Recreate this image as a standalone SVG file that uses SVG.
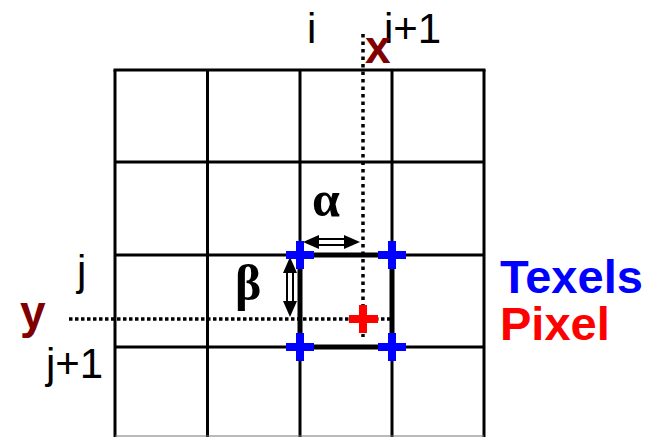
<svg xmlns="http://www.w3.org/2000/svg" width="655" height="437" viewBox="0 0 655 437">
<style>
.grid{stroke:#000;stroke-width:3;fill:none}
.dot{stroke:#000;stroke-width:3.5;fill:none}
.tex{stroke:#0000ff;stroke-width:8}
.pix{stroke:#ff0000;stroke-width:8}
.lbl{font-family:"Liberation Sans",Arial,sans-serif;font-size:42px;fill:#000}
.axis{font-family:"Liberation Sans",Arial,sans-serif;font-size:46px;font-weight:bold;fill:#800000}
.greek{font-family:"Liberation Serif","DejaVu Serif",serif;font-size:50px;font-weight:bold;fill:#000}
.leg{font-family:"Liberation Sans",Arial,sans-serif;font-size:47px;font-weight:bold}
</style>
<rect width="655" height="437" fill="#fff"/>
<g id="grid" class="grid">
<line x1="115" y1="70" x2="115" y2="437"/>
<line x1="207.5" y1="70" x2="207.5" y2="437"/>
<line x1="300" y1="70" x2="300" y2="437"/>
<line x1="392" y1="70" x2="392" y2="437"/>
<line x1="484" y1="70" x2="484" y2="437"/>
<line x1="113.5" y1="70" x2="485.5" y2="70"/>
<line x1="115" y1="162" x2="484" y2="162"/>
<line x1="115" y1="255" x2="484" y2="255"/>
<line x1="115" y1="347" x2="484" y2="347"/>
<line x1="115" y1="436" x2="484" y2="436" stroke="#777" stroke-width="1"/>
</g>
<g id="cell">
<rect x="300" y="255" width="92" height="92" fill="none" stroke="#000" stroke-width="5"/>
</g>
<g id="connectors">
<line class="dot" x1="363" y1="34" x2="363" y2="337" stroke-dasharray="3.5 4"/>
<line class="dot" x1="69" y1="319" x2="390" y2="319" stroke-dasharray="3.5 2.5"/>
<g id="alpha-arrow">
<rect x="318" y="239" width="27" height="6" fill="#fff" stroke="#000" stroke-width="2"/>
<polygon points="303,242 319,235 319,249" fill="#000"/>
<polygon points="360,242 344,235 344,249" fill="#000"/>
</g>
<g id="beta-arrow">
<rect x="287" y="272" width="6" height="30" fill="#fff" stroke="#000" stroke-width="2"/>
<polygon points="290,257 283,273 297,273" fill="#000"/>
<polygon points="290,317 283,301 297,301" fill="#000"/>
</g>
</g>
<g id="texels">
<path class="tex" d="M286,255h28M300,241v28M378,255h28M392,241v28M286,347h28M300,333v28M378,347h28M392,333v28"/>
</g>
<g id="pixel">
<path class="pix" d="M349,319h29M363,305v28"/>
</g>
<g id="labels">
<text class="lbl" x="307" y="43">i</text>
<text class="lbl" x="384" y="43">i+1</text>
<text class="lbl" x="77" y="285">j</text>
<text class="lbl" x="46" y="378">j+1</text>
<text class="axis" x="365" y="63">x</text>
<text class="axis" x="20" y="328">y</text>
<text class="greek" x="312" y="216">α</text>
<text class="greek" x="235" y="300">β</text>
<text class="leg" x="500" y="293" fill="#0000ff">Texels</text>
<text class="leg" x="500" y="340" fill="#ff0000">Pixel</text>
</g>
</svg>
